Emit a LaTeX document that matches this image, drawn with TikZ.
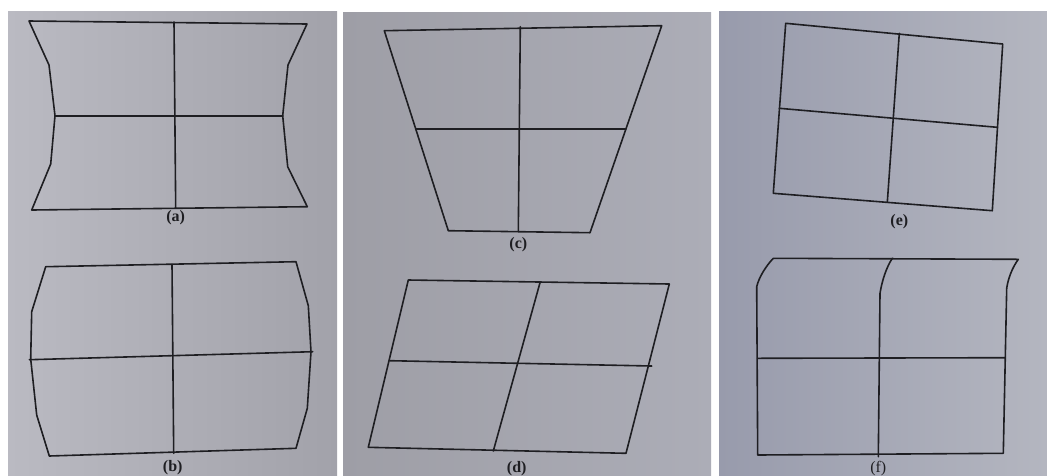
\documentclass[tikz,border=0pt]{standalone}
\usepackage{fontspec}
\setmainfont{Liberation Serif}
\definecolor{pAl}{RGB}{186,186,194}
\definecolor{pAm}{RGB}{184,184,192}
\definecolor{pAr}{RGB}{162,162,170}
\definecolor{pBl}{RGB}{158,158,166}
\definecolor{pBm}{RGB}{178,179,188}
\definecolor{pBr}{RGB}{172,173,183}
\definecolor{pCl}{RGB}{152,155,172}
\definecolor{pCm}{RGB}{176,178,190}
\definecolor{pCr}{RGB}{180,182,192}
\definecolor{ink}{RGB}{30,30,34}
\begin{document}
\begin{tikzpicture}[x=1pt,y=-1pt,
  ln/.style={line width=1.6pt,draw=ink,line join=round,line cap=round},
  lbl/.style={font=\fontsize{16}{18}\selectfont\bfseries,text=ink,inner sep=0pt},
  lblr/.style={font=\fontsize{16}{18}\selectfont,text=ink,inner sep=0pt}]
\useasboundingbox (0,0) rectangle (1047,475);
\fill[white] (0,0) rectangle (1047,475);
% pages
\shade[left color=pAl, middle color=pAm, right color=pAr] (8,11) rectangle (337,475);
\shade[left color=pBl, middle color=pBm, right color=pBr] (343,12) rectangle (711,475);
\shade[left color=pCl, middle color=pCm, right color=pCr] (719,11) rectangle (1047,475);
% (a)
\coordinate (a1) at (29,21); \coordinate (a2) at (307,24);
\coordinate (a3) at (307.3,206.7); \coordinate (a4) at (31.7,210);
\coordinate (aml) at (55,115.7); \coordinate (amr) at (282.7,115.7);
\draw[ln] (a1) -- (a2) -- (288,65) -- (amr) -- (287.7,166.7) -- (a3) -- (a4) -- (50.7,164) -- (aml) -- (49,65) -- cycle;
\draw[ln] (aml) -- (amr);
\draw[ln] (174,22) -- (175.7,208);
\node[lbl] (la) at (175.7,218) {(a)};
% (b)
\coordinate (b1) at (45.7,266.7); \coordinate (b2) at (296,261.7);
\coordinate (b3) at (296,448.3); \coordinate (b4) at (49.3,456);
\draw[ln] (b1) -- (b2) -- (308.3,305.7) -- (311,351.7) -- (307.3,408.3) -- (b3) -- (b4) -- (36.7,415) -- (30.7,359) -- (31.7,311.7) -- cycle;
\draw[ln] (29.3,359.7) -- (312.7,351.7);
\draw[ln] (172,264.3) -- (173.7,453.3);
\node[lbl] (lb) at (172.7,467.3) {(b)};
% (c)
\coordinate (c1) at (384.3,30.7); \coordinate (c2) at (661.7,25.7);
\coordinate (c3) at (590,232.7); \coordinate (c4) at (448.3,230.7);
\draw[ln] (c1) -- (c2) -- (c3) -- (c4) -- cycle;
\draw[ln] (416,129) -- (625.7,129);
\draw[ln] (520.3,26.7) -- (518.3,231.7);
\node[lbl] (lc) at (518.3,245) {(c)};
% (d)
\coordinate (d1) at (408.3,280); \coordinate (d2) at (669.3,284);
\coordinate (d3) at (626,453.3); \coordinate (d4) at (368.3,447.3);
\draw[ln] (d1) -- (d2) -- (d3) -- (d4) -- cycle;
\draw[ln] (390,360.7) -- (651.7,366);
\draw[ln] (540,282.7) -- (493.3,451);
\node[lbl] (ld) at (516.7,468.3) {(d)};
% (e)
\coordinate (e1) at (785.7,23.3); \coordinate (e2) at (1002.7,44);
\coordinate (e3) at (992.3,210.7); \coordinate (e4) at (773.3,193.3);
\draw[ln] (e1) -- (e2) -- (e3) -- (e4) -- cycle;
\draw[ln] (779.3,108.3) -- (997.3,127.3);
\draw[ln] (899.3,33.3) -- (887.3,202.3);
\node[lbl] (le) at (899.3,222) {(e)};
% (f)
\coordinate (f1) at (773.3,258.3); \coordinate (f2) at (1018.3,259.3);
\coordinate (f3) at (1003.3,453.3); \coordinate (f4) at (757.7,455);
\draw[ln] (f1) -- (f2) .. controls (1012,268) and (1008,279) .. (1006.7,288.3) -- (f3) -- (f4) -- (756.7,286.7) .. controls (759,277) and (766,266) .. cycle;
\draw[ln] (757.7,358.3) -- (1005,357.7);
\draw[ln] (892.3,258.3) .. controls (886,268) and (882,281) .. (880,293.3) -- (878.3,456.7);
\node[lblr] (lf) at (878.3,468.3) {(f)};
\end{tikzpicture}
\end{document}
